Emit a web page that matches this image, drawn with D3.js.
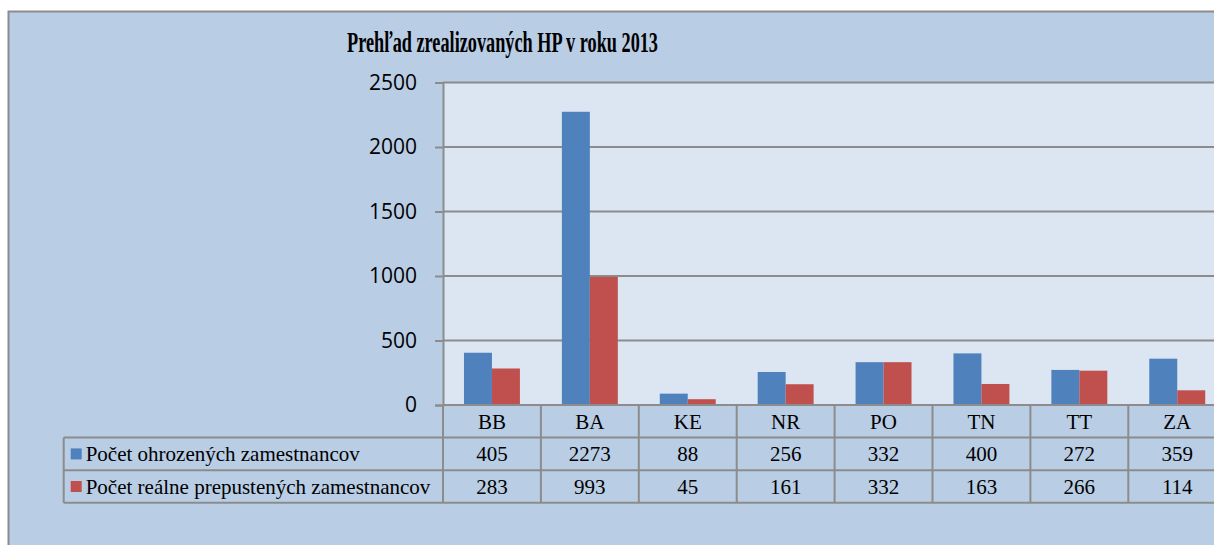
<!DOCTYPE html>
<html>
<head>
<meta charset="utf-8">
<script src="https://cdn.jsdelivr.net/npm/d3@7/dist/d3.min.js"></script>
<style>
  body { margin: 0; background: #fff; }
  .serif { font-family: "Times New Roman", "Liberation Serif", "DejaVu Serif", serif; }
</style>
</head>
<body>
<script>
var categories = ['BB', 'BA', 'KE', 'NR', 'PO', 'TN', 'TT', 'ZA'];
var seriesNames = ['Počet ohrozených zamestnancov', 'Počet reálne prepustených zamestnancov'];
var ohrozeni = [405, 2273, 88, 256, 332, 400, 272, 359];
var prepusteni = [283, 993, 45, 161, 332, 163, 266, 114];
var yTicks = [0, 500, 1000, 1500, 2000, 2500];
var title = 'Prehľad zrealizovaných HP v roku 2013';

var colors = ['#4F81BD', '#C0504D'];
var width = 1214, height = 545;

var plotLeft = 443, plotTop = 82.5, plotBottom = 405;
var step = 97.9;
var rowH = 32.6;
var tableLeft = 63.7;
var lineColor = '#8C8C8C';

var svg = d3.select('body').append('svg')
  .attr('width', width)
  .attr('height', height);

//outer chart area
svg.append('rect')
  .attr('x', 8.5).attr('y', 11.5)
  .attr('width', 1400).attr('height', 700)
  .attr('fill', '#B9CDE5')
  .attr('stroke', lineColor)
  .attr('stroke-width', 2);

var x = d3.scaleBand()
  .domain(categories)
  .range([plotLeft, plotLeft + step * categories.length]);

var xs = d3.scaleBand()
  .domain([0, 1])
  .range([0, x.bandwidth()])
  .paddingOuter(0.75);

var y = d3.scaleLinear()
  .domain([0, 2500])
  .range([plotBottom, plotTop]);

var plotRight = x.range()[1];

//plot background
svg.append('rect')
  .attr('x', plotLeft).attr('y', y(2500))
  .attr('width', plotRight - plotLeft)
  .attr('height', y(0) - y(2500))
  .attr('fill', '#DCE6F2');

//gridlines
svg.append('g')
  .selectAll('line')
  .data(yTicks.filter(function(d) { return d > 0; }))
  .enter().append('line')
  .attr('x1', plotLeft).attr('x2', plotRight)
  .attr('y1', function(d) { return y(d); })
  .attr('y2', function(d) { return y(d); })
  .attr('stroke', lineColor)
  .attr('stroke-width', 2);

//y axis
var yAxis = svg.append('g')
  .attr('transform', 'translate(' + plotLeft + ',0)')
  .call(d3.axisLeft(y).tickValues(yTicks).tickFormat(d3.format('d')).tickSize(8).tickPadding(18));
yAxis.select('.domain').attr('stroke', lineColor).attr('stroke-width', 2);
yAxis.selectAll('.tick line').attr('stroke', lineColor).attr('stroke-width', 2);
yAxis.selectAll('.tick text')
  .attr('fill', '#000')
  .style('font-family', '"Open Sans", sans-serif')
  .style('font-size', '21px');

//bars
var data = [ohrozeni, prepusteni];
data.forEach(function(values, s) {
  svg.append('g')
    .selectAll('rect')
    .data(values)
    .enter().append('rect')
    .attr('x', function(d, i) { return x(categories[i]) + xs(s); })
    .attr('y', function(d) { return y(d); })
    .attr('width', xs.bandwidth())
    .attr('height', function(d) { return y(0) - y(d); })
    .attr('fill', colors[s]);
});

//data table
var table = svg.append('g');
var rowsY = [plotBottom, plotBottom + rowH, plotBottom + 2 * rowH, plotBottom + 3 * rowH];

table.append('line')
  .attr('x1', plotLeft).attr('x2', plotRight + 50)
  .attr('y1', plotBottom).attr('y2', plotBottom)
  .attr('stroke', lineColor).attr('stroke-width', 2);

rowsY.slice(1).forEach(function(ry) {
  table.append('line')
    .attr('x1', tableLeft).attr('x2', plotRight + 50)
    .attr('y1', ry).attr('y2', ry)
    .attr('stroke', lineColor).attr('stroke-width', 2);
});

table.append('line')
  .attr('x1', tableLeft).attr('x2', tableLeft)
  .attr('y1', rowsY[1]).attr('y2', rowsY[3])
  .attr('stroke', lineColor).attr('stroke-width', 2);

table.selectAll('.col')
  .data(categories.concat(['end']))
  .enter().append('line')
  .attr('class', 'col')
  .attr('x1', function(d, i) { return plotLeft + i * step; })
  .attr('x2', function(d, i) { return plotLeft + i * step; })
  .attr('y1', plotBottom).attr('y2', rowsY[3])
  .attr('stroke', lineColor).attr('stroke-width', 2);

table.selectAll('.cat')
  .data(categories)
  .enter().append('text')
  .attr('class', 'serif cat')
  .attr('x', function(d) { return x(d) + x.bandwidth() / 2; })
  .attr('y', (rowsY[0] + rowsY[1]) / 2)
  .attr('dy', '0.35em')
  .attr('text-anchor', 'middle')
  .style('font-size', '21px')
  .text(function(d) { return d; });

data.forEach(function(values, s) {
  var cy = (rowsY[s + 1] + rowsY[s + 2]) / 2;
  table.append('g')
    .selectAll('text')
    .data(values)
    .enter().append('text')
    .attr('class', 'serif')
    .attr('x', function(d, i) { return x(categories[i]) + x.bandwidth() / 2; })
    .attr('y', cy)
    .attr('dy', '0.35em')
    .attr('text-anchor', 'middle')
    .style('font-size', '21px')
    .text(function(d) { return d; });

  table.append('rect')
    .attr('x', tableLeft + 7).attr('y', cy - 5.5)
    .attr('width', 11).attr('height', 11)
    .attr('fill', colors[s]);

  table.append('text')
    .attr('class', 'serif')
    .attr('x', tableLeft + 22)
    .attr('y', cy)
    .attr('dy', '0.35em')
    .style('font-size', '21px')
    .text(seriesNames[s]);
});

//title
svg.append('text')
  .attr('class', 'serif')
  .attr('x', 347)
  .attr('y', 52)
  .attr('textLength', 311)
  .attr('lengthAdjust', 'spacingAndGlyphs')
  .style('font-weight', 'bold')
  .style('font-size', '30px')
  .text(title);
</script>
</body>
</html>
